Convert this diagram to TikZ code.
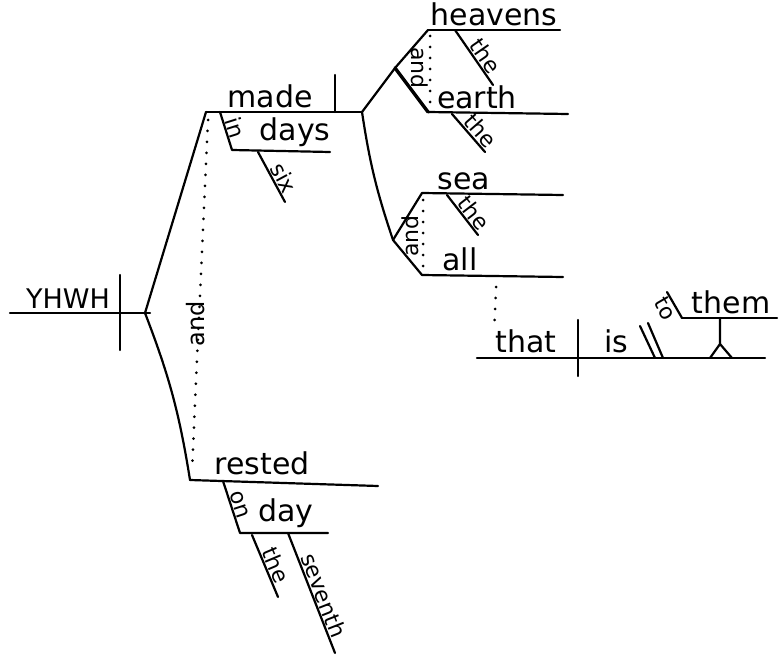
\documentclass[tikz,border=0pt]{standalone}
\usepackage{fontspec}
\setmainfont{DejaVu Sans}
\begin{document}
\begin{tikzpicture}[x=1pt,y=-1pt,
        word/.style={font=\fontsize{30}{34}\selectfont, inner sep=1pt, anchor=south},
        small/.style={font=\fontsize{22}{26}\selectfont, inner sep=1pt},
        stroke/.style={line width=2.2pt, line cap=round, line join=round},
        thickstroke/.style={line width=3.4pt, line cap=round},
        dots/.style={line width=3pt, line cap=round, dash pattern=on 0pt off 11pt},
      ]
      \useasboundingbox (0,0) rectangle (781,655);

      %Coordinates
      \coordinate (y0)  at (10,313);
      \coordinate (y1)  at (150,313);
      \coordinate (j0)  at (145,313);
      \coordinate (m0)  at (206,112);
      \coordinate (m1)  at (362,112);
      \coordinate (r0)  at (190,480);
      \coordinate (r1)  at (378,486);
      \coordinate (k1)  at (395,68);
      \coordinate (k2)  at (393,240);
      \coordinate (h0)  at (428,30);
      \coordinate (h1)  at (560,30);
      \coordinate (e0)  at (428,112);
      \coordinate (e1)  at (568,114);
      \coordinate (s0)  at (422,193);
      \coordinate (s1)  at (563,195);
      \coordinate (l0)  at (422,275);
      \coordinate (l1)  at (563,277);
      \coordinate (t0)  at (477,358);
      \coordinate (t1)  at (765,358);
      \coordinate (o0)  at (682,318);
      \coordinate (o1)  at (777,318);

      %Nodes
      \node[word, font=\fontsize{27}{30}\selectfont] (yhwh) at (68,310) {YHWH};
      \node[word] (made)    at (270,109) {made};
      \node[word] (days)    at (295,148) {days};
      \node[word] (heavens) at (494,27)  {heavens};
      \node[word] (earth)   at (477,110) {earth};
      \node[word] (sea)     at (464,191) {sea};
      \node[word] (all)     at (460,272) {all};
      \node[word] (that)    at (526,354) {that};
      \node[word] (is)      at (616,354) {is};
      \node[word] (them)    at (731,315) {them};
      \node[word] (rested)  at (262,476) {rested};
      \node[word] (day)     at (286,529) {day};

      \node[small, font=\fontsize{24}{28}\selectfont, rotate=90]  (and1) at (196,324) {and};
      \node[small, rotate=-90] (and2) at (420,68)  {and};
      \node[small, rotate=90]  (and3) at (410,236) {and};

      %Lines
      \draw[stroke] (y0) -- (y1);
      \draw[stroke] (120,275) -- (120,350);
      \draw[stroke] (j0) -- (m0);
      \draw[stroke] (j0) to[bend left=6] (r0);
      \draw[dots] (208,120) -- (192,470);

      \draw[stroke] (m0) -- (m1);
      \draw[stroke] (335,75) -- (335,112);
      \draw[stroke] (220,112) -- node[small, sloped, above] (in) {in} (232,150) -- (330,152);
      \draw[stroke] (258,152) -- node[small, sloped, above, pos=0.62] (six) {six} (285,202);

      \draw[stroke] (m1) -- (k1) -- (h0);
      \draw[thickstroke] (k1) -- (e0);
      \draw[dots] (430,36) -- (430,108);
      \draw[stroke] (h0) -- (h1);
      \draw[stroke] (455,30) -- node[small, sloped, above, pos=0.58] (the1) {the} (493,85);
      \draw[stroke] (e0) -- (e1);
      \draw[stroke] (452,114) -- node[small, sloped, above, pos=0.62] (the2) {the} (485,152);

      \draw[stroke] (m1) to[bend right=5] (k2);
      \draw[stroke] (k2) -- (s0);
      \draw[stroke] (k2) -- (l0);
      \draw[dots] (423,200) -- (423,270);
      \draw[stroke] (s0) -- (s1);
      \draw[stroke] (447,195) -- node[small, sloped, above, pos=0.6] (the3) {the} (478,235);
      \draw[stroke] (l0) -- (l1);
      \draw[dots] (496,287) -- (that.north west);

      \draw[stroke] (t0) -- (t1);
      \draw[stroke] (578,320) -- (578,376);
      \draw[stroke] (640,326) -- (655,358);
      \draw[stroke] (648,323) -- (663,358);
      \draw[stroke] (o0) -- (o1);
      \draw[stroke] (667,292) -- node[small, sloped, below, pos=0.45] (to) {to} (o0);
      \draw[stroke] (720,318) -- (720,344) -- (710,358);
      \draw[stroke] (720,344) -- (732,358);

      \draw[stroke] (r0) -- (r1);
      \draw[stroke] (223,481) -- node[small, sloped, above] (on) {on} (240,533) -- (328,533);
      \draw[stroke] (252,535) -- node[small, sloped, above, pos=0.55] (the4) {the} (278,597);
      \draw[stroke] (288,533) -- node[small, sloped, above, pos=0.55] (seventh) {seventh} (335,653);
    \end{tikzpicture}
\end{document}
